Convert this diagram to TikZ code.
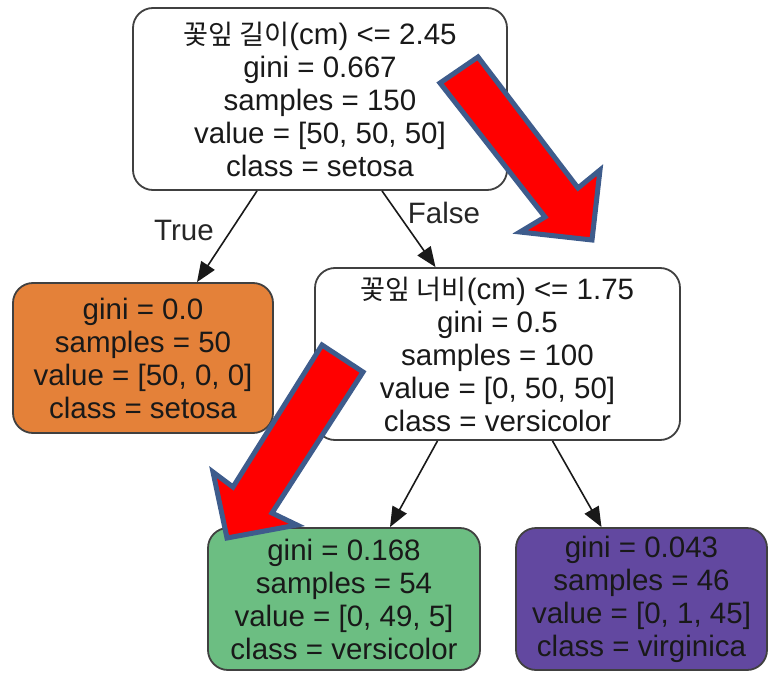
\documentclass[tikz,border=0pt]{standalone}
\usepackage{fontspec}
\setmainfont{Liberation Sans}
\newfontfamily\krfont[Scale=0.92]{Noto Sans CJK KR}
\usetikzlibrary{arrows.meta}

\definecolor{leafsetosa}{RGB}{228,129,57}
\definecolor{leafversi}{RGB}{108,190,130}
\definecolor{leafvirgi}{RGB}{98,72,160}
\definecolor{markred}{RGB}{255,0,0}
\definecolor{markedge}{RGB}{62,92,140}

\begin{document}
\begin{tikzpicture}[x=1pt, y=-1pt, >={Triangle[length=20pt, width=16pt]},
  treenode/.style={draw=black!75, line width=1.8pt, rounded corners=20pt,
    align=center, inner sep=0pt, text=black!90, font=\fontsize{29.5}{33}\selectfont},
  edgelabel/.style={text=black!85, font=\fontsize{29.5}{33}\selectfont},
  treeedge/.style={->, line width=1.6pt, black!90},
  bigarrow/.style={fill=markred, draw=markedge, line width=5pt, line join=miter}]

  % Canvas
  \useasboundingbox (0, 0) rectangle (768, 674);

  % Tree nodes
  \node[treenode, fill=white, minimum width=374pt, minimum height=182pt] (root) at (320, 99)
    {{\krfont 꽃잎 길이}(cm) <= 2.45\\gini = 0.667\\samples = 150\\value = [50, 50, 50]\\class = setosa};
  \node[treenode, fill=leafsetosa, minimum width=260pt, minimum height=150pt] (setosa) at (143, 358)
    {gini = 0.0\\samples = 50\\value = [50, 0, 0]\\class = setosa};
  \node[treenode, fill=white, minimum width=365pt, minimum height=172pt] (split) at (497.5, 354)
    {{\krfont 꽃잎 너비}(cm) <= 1.75\\gini = 0.5\\samples = 100\\value = [0, 50, 50]\\class = versicolor};
  \node[treenode, fill=leafversi, minimum width=272pt, minimum height=142pt] (versi) at (344, 599)
    {gini = 0.168\\samples = 54\\value = [0, 49, 5]\\class = versicolor};
  \node[treenode, fill=leafvirgi, minimum width=251pt, minimum height=142pt] (virgi) at (641.5, 599)
    {gini = 0.043\\samples = 46\\value = [0, 1, 45]\\class = virginica};

  % Edges
  \draw[treeedge] ([xshift=-63pt]root.south) -- ([xshift=54pt]setosa.north);
  \draw[treeedge] ([xshift=62pt]root.south) -- ([xshift=-62pt]split.north);
  \draw[treeedge] ([xshift=-60pt]split.south) -- ([xshift=46pt]versi.north);
  \draw[treeedge] ([xshift=55pt]split.south) -- ([xshift=-40pt]virgi.north);

  % Edge labels
  \node[edgelabel] (truelbl) at (184, 230) {True};
  \node[edgelabel] (falselbl) at (444, 213) {False};

  % Highlight arrow 1 (root -> split)
  \coordinate (a1) at (440, 83);
  \coordinate (b1) at (478, 57);
  \coordinate (c1) at (578, 188);
  \coordinate (e1) at (600, 170);
  \coordinate (g1) at (592, 240);
  \coordinate (f1) at (520, 232);
  \coordinate (d1) at (545, 217);
  \draw[bigarrow] (a1) -- (b1) -- (c1) -- (e1) -- (g1) -- (f1) -- (d1) -- cycle;

  % Highlight arrow 2 (split -> versi)
  \coordinate (a2) at (363, 372);
  \coordinate (b2) at (322, 345);
  \coordinate (c2) at (233, 487);
  \coordinate (e2) at (213, 472);
  \coordinate (g2) at (227, 538);
  \coordinate (f2) at (297, 525);
  \coordinate (d2) at (272, 513);
  \draw[bigarrow] (a2) -- (b2) -- (c2) -- (e2) -- (g2) -- (f2) -- (d2) -- cycle;

\end{tikzpicture}
\end{document}
